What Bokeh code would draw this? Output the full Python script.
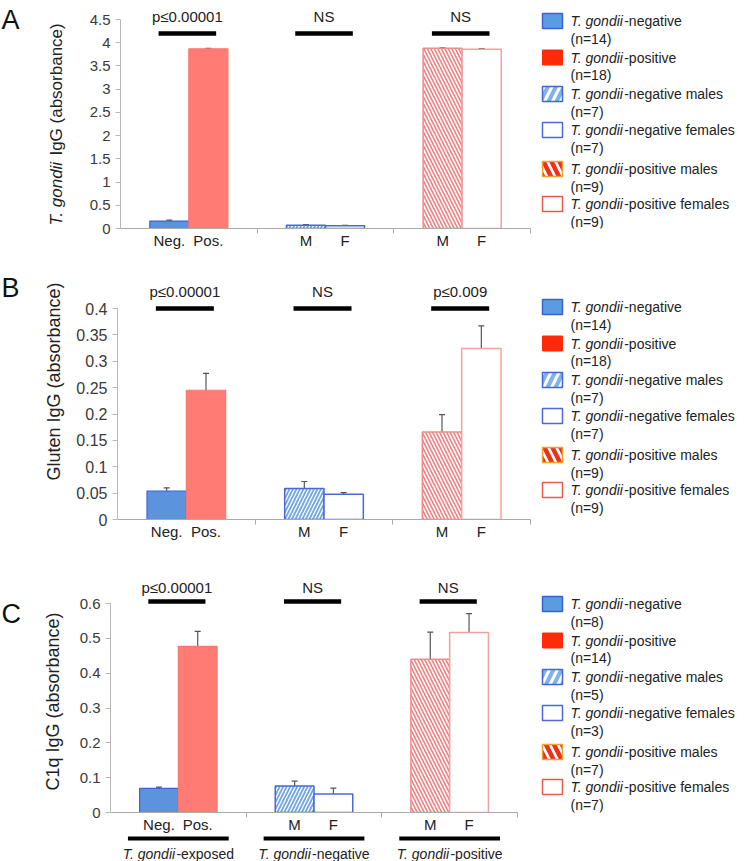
import math
from bokeh.plotting import figure
from bokeh.models import Range1d, FixedTicker, NumeralTickFormatter, Label, Whisker, TeeHead, ColumnDataSource
from bokeh.layouts import column, row
from bokeh.embed import file_html
from bokeh.resources import INLINE
from bokeh.core.properties import value

FONT = "Liberation Sans"

# ---------------- data ----------------
bar_labels = ["Neg.", "Pos.", "M", "F", "M", "F"]
group_names = ["T. gondii-exposed", "T. gondii-negative", "T. gondii-positive"]
legend_names = ["T. gondii-negative", "T. gondii-positive", "T. gondii-negative males",
                "T. gondii-negative females", "T. gondii-positive males", "T. gondii-positive females"]
ITALIC = "T. gondii"

a_mean = [0.16, 3.87, 0.07, 0.06, 3.88, 3.86]
a_err = [0.02, 0.01, 0.015, 0.01, 0.01, 0.015]
a_n = [14, 18, 7, 7, 9, 9]
a_sig = ["p\u22640.00001", "NS", "NS"]
a_yticks = [0, 0.5, 1, 1.5, 2, 2.5, 3, 3.5, 4, 4.5]

b_mean = [0.054, 0.245, 0.059, 0.048, 0.166, 0.324]
b_err = [0.006, 0.032, 0.013, 0.003, 0.033, 0.043]
b_n = [14, 18, 7, 7, 9, 9]
b_sig = ["p\u22640.00001", "NS", "p\u22640.009"]
b_yticks = [0, 0.05, 0.1, 0.15, 0.2, 0.25, 0.3, 0.35, 0.4]

c_mean = [0.069, 0.477, 0.076, 0.053, 0.440, 0.517]
c_err = [0.004, 0.043, 0.014, 0.017, 0.078, 0.054]
c_n = [8, 14, 5, 3, 7, 7]
c_sig = ["p\u22640.00001", "NS", "NS"]
c_yticks = [0, 0.1, 0.2, 0.3, 0.4, 0.5, 0.6]

# ---------------- helpers ----------------
AW = {' ': 278, '-': 333, '.': 278, '(': 333, ')': 333, '=': 584, 'T': 611, 'a': 556, 'b': 556,
      'c': 500, 'd': 556, 'e': 556, 'f': 278, 'g': 556, 'i': 222, 'l': 222, 'm': 833, 'n': 556,
      'o': 556, 'p': 556, 'r': 333, 's': 500, 't': 278, 'u': 556, 'v': 500, 'x': 500, 'G': 778,
      'I': 278, 'C': 722, 'q': 556}


def tw(s, size):
    return sum(AW.get(ch, 556) for ch in s) * size / 1000.0


def x_of(i):
    return 14 * (i // 2) + (5 if i % 2 == 0 else 9)


bar_styles = [
    dict(fill_color="#5b94dc", line_color="#3b64d4", line_width=1.2),
    dict(fill_color="#ff7b73", line_color="#fa7870", line_width=1.2),
    dict(fill_color="white", line_color="#4a68d8", line_width=1.5, hatch_pattern="/",
         hatch_color="#72a6e2", hatch_weight=1.8, hatch_scale=7),
    dict(fill_color="white", line_color="#4a68d8", line_width=1.5),
    dict(fill_color="white", line_color="#f28a8a", line_width=1.5, hatch_pattern="\\",
         hatch_color="#f28080", hatch_weight=1.6, hatch_scale=7),
    dict(fill_color="white", line_color="#f4a0a0", line_width=1.5),
]
legend_styles = [
    dict(fill_color="#5b9be0", line_color="#3a62d0", line_width=1.5),
    dict(fill_color="#ff2a0a", line_color="#ff2a0a", line_width=1),
    dict(fill_color="white", line_color="#3f66d4", line_width=1.5, hatch_pattern="/",
         hatch_color="#7fb2ea", hatch_weight=4, hatch_scale=16),
    dict(fill_color="white", line_color="#4a68d8", line_width=1.5),
    dict(fill_color="white", line_color="#f4a030", line_width=1.5, hatch_pattern="\\",
         hatch_color="#e8321c", hatch_weight=4.5, hatch_scale=16),
    dict(fill_color="white", line_color="#e85a4a", line_width=1.5),
]
leg_offsets = [0, 36.5, 73, 109, 148, 183]

LW = 68   # left strip (panel letter + y title)
RW = 207  # legend strip

panels = [
    dict(letter="A", mean=a_mean, err=a_err, n=a_n, sig=a_sig, yticks=a_yticks,
         ylab=(ITALIC, "IgG (absorbance)"), ylab_size=17, tick_size=15, pxu=209 / 4.5,
         left=120, fw=410, right=8, top=3, fh=225, bottom=40, sig_y=4.2, sig_text_y=4.565,
         ylab_x=56, ylab_bottom=225, letter_y=19, legend_top=13),
    dict(letter="B", mean=b_mean, err=b_err, n=b_n, sig=b_sig, yticks=b_yticks,
         ylab=("", "Gluten IgG (absorbance)"), ylab_size=18, tick_size=16, pxu=211 / 0.4,
         left=117, fw=413, right=8, top=6, fh=245, bottom=27, sig_y=0.4, sig_text_y=0.433,
         ylab_x=53, ylab_bottom=212, letter_y=19, legend_top=31),
    dict(letter="C", mean=c_mean, err=c_err, n=c_n, sig=c_sig, yticks=c_yticks,
         ylab=("", "C1q IgG (absorbance)"), ylab_size=18, tick_size=15, pxu=209 / 0.6,
         left=110, fw=407, right=21, top=28, fh=238, bottom=21, sig_y=0.606, sig_text_y=0.646,
         ylab_x=52, ylab_bottom=244, letter_y=67, legend_top=50),
]


def strip(cfg, W):
    H = cfg["top"] + cfg["fh"] + cfg["bottom"]
    f = figure(frame_width=W, frame_height=cfg["fh"], x_range=Range1d(0, W),
               y_range=Range1d(cfg["bottom"], H - cfg["top"]),
               min_border_left=0, min_border_right=0, min_border_top=cfg["top"],
               min_border_bottom=cfg["bottom"], x_axis_location=None, y_axis_location=None,
               outline_line_color=None, tools="", toolbar_location=None, output_backend="svg")
    f.grid.visible = False
    return f, H


def left_panel(cfg):
    lf, H = strip(cfg, LW)
    lf.text(x=[1], y=[H - cfg["letter_y"]], text=[cfg["letter"]], text_font=value(FONT),
            text_font_size="27px", text_baseline="middle", text_align="left",
            text_color="#111111")
    it, rest = cfg["ylab"]
    size = cfg["ylab_size"]
    y0 = H - cfg["ylab_bottom"]
    off = 0
    if it:
        lf.text(x=[cfg["ylab_x"]], y=[y0], text=[it], angle=math.pi / 2,
                text_font=value(FONT), text_font_style="italic",
                text_font_size="%dpx" % size, text_baseline="middle", text_align="left",
                text_color="#222222")
        off = tw(it + " ", size)
    lf.text(x=[cfg["ylab_x"]], y=[y0 + off], text=[rest], angle=math.pi / 2,
            text_font=value(FONT), text_font_size="%dpx" % size, text_baseline="middle",
            text_align="left", text_color="#222222")
    return lf


def main_panel(cfg):
    pxu = cfg["pxu"]
    p = figure(frame_width=cfg["fw"], frame_height=cfg["fh"],
               x_range=Range1d(0, 42), y_range=Range1d(0, cfg["fh"] / pxu),
               min_border_left=cfg["left"] - LW, min_border_right=cfg["right"],
               min_border_top=cfg["top"], min_border_bottom=cfg["bottom"],
               output_backend="svg", toolbar_location=None, tools="",
               outline_line_color=None)
    p.grid.visible = False

    yax = p.yaxis[0]
    yax.ticker = FixedTicker(ticks=cfg["yticks"])
    yax.formatter = NumeralTickFormatter(format="0.[00]")
    yax.bounds = (0, cfg["yticks"][-1])
    yax.axis_line_color = "#b8b8b8"
    yax.major_tick_line_color = "#b8b8b8"
    yax.major_tick_out = 5
    yax.major_tick_in = 0
    yax.minor_tick_line_color = None
    yax.major_label_text_font = FONT
    yax.major_label_text_font_size = "%dpx" % cfg["tick_size"]
    yax.major_label_text_color = "#3a3a3a"
    yax.major_label_standoff = 5

    xax = p.xaxis[0]
    xax.ticker = FixedTicker(ticks=[x_of(i) for i in range(6)], minor_ticks=[14, 28, 42])
    xax.major_label_overrides = {x_of(i): bar_labels[i] for i in range(6)}
    xax.bounds = (0, 42)
    xax.axis_line_color = "#aaaaaa"
    xax.major_tick_line_color = None
    xax.major_tick_out = 0
    xax.major_tick_in = 0
    xax.minor_tick_line_color = "#aaaaaa"
    xax.minor_tick_out = 5
    xax.minor_tick_in = 0
    xax.major_label_text_font = FONT
    xax.major_label_text_font_size = "15px"
    xax.major_label_text_color = "#222222"
    xax.major_label_standoff = -2

    for i in range(6):
        src = ColumnDataSource(dict(x=[x_of(i)], top=[cfg["mean"][i]]))
        p.vbar(x="x", top="top", bottom=0, width=4, source=src, **bar_styles[i])

    wsrc = ColumnDataSource(dict(
        x=[x_of(i) for i in range(6)],
        lower=list(cfg["mean"]),
        upper=[m + e for m, e in zip(cfg["mean"], cfg["err"])]))
    p.add_layout(Whisker(source=wsrc, base="x", lower="lower", upper="upper",
                         line_color="#555555", line_width=1.2, lower_head=None,
                         upper_head=TeeHead(size=6, line_color="#555555", line_width=1.2)))

    gc = [14 * g + 7 for g in range(3)]
    p.segment(x0=[c - 3.1 for c in gc], y0=[cfg["sig_y"]] * 3,
              x1=[c + 2.8 for c in gc], y1=[cfg["sig_y"]] * 3,
              line_width=4.5, line_color="black")
    for g in range(3):
        p.add_layout(Label(x=gc[g] - 0.15, y=cfg["sig_text_y"], text=cfg["sig"][g],
                           text_align="center", text_baseline="middle", text_font=FONT,
                           text_font_size="15px", text_color="#222222"))
    return p


def legend_panel(cfg):
    lp, H = strip(cfg, RW)
    w_it = tw(ITALIC, 14)
    for i in range(6):
        t = cfg["legend_top"] + leg_offsets[i]
        lp.quad(left=[4], right=[24], top=[H - t], bottom=[H - t - 15], **legend_styles[i])
        rest = legend_names[i][len(ITALIC):]
        lp.text(x=[32], y=[H - t - 7.5], text=[ITALIC], text_font=value(FONT),
                text_font_style="italic", text_font_size="14px", text_baseline="middle",
                text_align="left", text_color="#222222")
        lp.text(x=[32 + w_it], y=[H - t - 7.5], text=[rest], text_font=value(FONT),
                text_font_size="14px", text_baseline="middle", text_align="left",
                text_color="#222222")
        lp.text(x=[32], y=[H - t - 25], text=["(n=%d)" % cfg["n"][i]], text_font=value(FONT),
                text_font_size="14px", text_baseline="middle", text_align="left",
                text_color="#222222")
    return lp


rows = []
main_figs = []
for cfg in panels:
    lf = left_panel(cfg)
    pm = main_panel(cfg)
    lg = legend_panel(cfg)
    main_figs.append(pm)
    rows.append(row(lf, pm, lg))

# category bars under panel C
cc = panels[2]
pc = main_figs[2]
BH = 27
pb = figure(frame_width=cc["fw"], frame_height=BH, x_range=pc.x_range, y_range=Range1d(0, BH),
            x_axis_location=None, y_axis_location=None, min_border_left=cc["left"],
            min_border_right=cc["right"], min_border_top=0, min_border_bottom=0,
            outline_line_color=None, tools="", toolbar_location=None, output_backend="svg")
pb.grid.visible = False
gcx = [14 * g + 7 for g in range(3)]
pb.segment(x0=[c - 5.2 for c in gcx], y0=[BH - 3] * 3, x1=[c + 5.2 for c in gcx],
           y1=[BH - 3] * 3, line_width=4, line_color="black")
lsz = 14
w_it = tw(ITALIC, lsz)
it_off, rest_off, rests = [], [], []
for name in group_names:
    tot = tw(name, lsz)
    it_off.append(-tot / 2)
    rest_off.append(-tot / 2 + w_it)
    rests.append(name[len(ITALIC):])
pb.text(x=gcx, y=[BH - 18] * 3, text=[ITALIC] * 3, x_offset=it_off, text_font=value(FONT),
        text_font_style="italic", text_font_size="14px", text_baseline="middle",
        text_align="left", text_color="#222222")
pb.text(x=gcx, y=[BH - 18] * 3, text=rests, x_offset=rest_off, text_font=value(FONT),
        text_font_size="14px", text_baseline="middle", text_align="left", text_color="#222222")

layout = column(*rows, pb)
open("out.html", "w").write(file_html(layout, INLINE))
